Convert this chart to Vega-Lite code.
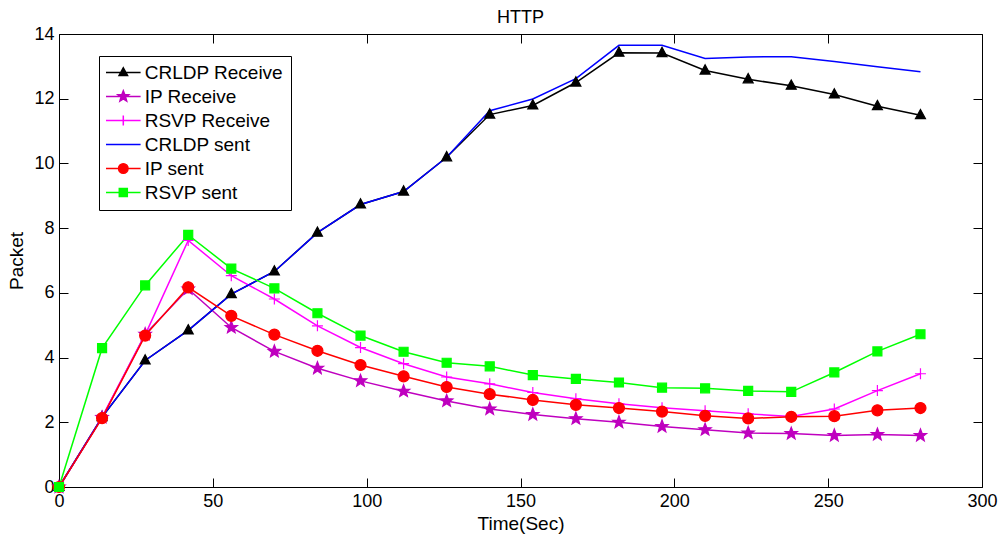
{
  "$schema": "https://vega.github.io/schema/vega-lite/v6.json",
  "width": 923,
  "height": 453,
  "autosize": {"type": "none"},
  "padding": {"left": 59, "top": 34, "right": 17, "bottom": 51},
  "background": "white",
  "title": {"text": "HTTP", "font": "Liberation Sans", "fontSize": 18, "fontWeight": "normal", "color": "black", "offset": -2},
  "config": {
    "view": {"stroke": null},
    "axis": {
      "grid": false, "domainColor": "black", "tickColor": "black", "domainWidth": 1, "tickWidth": 1,
      "tickSize": -9, "labelPadding": 14, "labelFlush": false, "labelOverlap": false,
      "labelFont": "Liberation Sans", "labelFontSize": 18, "labelColor": "black",
      "titleFont": "Liberation Sans", "titleFontSize": 19, "titleFontWeight": "normal", "titleColor": "black"
    },
    "legend": {
      "padding": 7, "rowPadding": 4,
      "strokeColor": "black", "fillColor": "white", "cornerRadius": 0,
      "labelFont": "Liberation Sans", "labelFontSize": 19, "labelColor": "black", "labelLimit": 300,
      "symbolSize": 100, "symbolStrokeWidth": 1.5, "symbolOpacity": 1, "symbolOffset": 7.8, "labelOffset": 11.9
    }
  },
  "data": {"values": [
    {"series": "CRLDP Receive", "t": 0, "v": 0}, {"series": "CRLDP Receive", "t": 14, "v": 2.16}, {"series": "CRLDP Receive", "t": 28, "v": 3.91}, {"series": "CRLDP Receive", "t": 42, "v": 4.84}, {"series": "CRLDP Receive", "t": 56, "v": 5.96}, {"series": "CRLDP Receive", "t": 70, "v": 6.66}, {"series": "CRLDP Receive", "t": 84, "v": 7.86}, {"series": "CRLDP Receive", "t": 98, "v": 8.73}, {"series": "CRLDP Receive", "t": 112, "v": 9.13}, {"series": "CRLDP Receive", "t": 126, "v": 10.19}, {"series": "CRLDP Receive", "t": 140, "v": 11.51}, {"series": "CRLDP Receive", "t": 154, "v": 11.79}, {"series": "CRLDP Receive", "t": 168, "v": 12.5}, {"series": "CRLDP Receive", "t": 182, "v": 13.42}, {"series": "CRLDP Receive", "t": 196, "v": 13.41}, {"series": "CRLDP Receive", "t": 210, "v": 12.87}, {"series": "CRLDP Receive", "t": 224, "v": 12.6}, {"series": "CRLDP Receive", "t": 238, "v": 12.4}, {"series": "CRLDP Receive", "t": 252, "v": 12.13}, {"series": "CRLDP Receive", "t": 266, "v": 11.77}, {"series": "CRLDP Receive", "t": 280, "v": 11.49},
    {"series": "IP Receive", "t": 0, "v": 0}, {"series": "IP Receive", "t": 14, "v": 2.15}, {"series": "IP Receive", "t": 28, "v": 4.72}, {"series": "IP Receive", "t": 42, "v": 6.12}, {"series": "IP Receive", "t": 56, "v": 4.93}, {"series": "IP Receive", "t": 70, "v": 4.19}, {"series": "IP Receive", "t": 84, "v": 3.67}, {"series": "IP Receive", "t": 98, "v": 3.28}, {"series": "IP Receive", "t": 112, "v": 2.96}, {"series": "IP Receive", "t": 126, "v": 2.66}, {"series": "IP Receive", "t": 140, "v": 2.41}, {"series": "IP Receive", "t": 154, "v": 2.24}, {"series": "IP Receive", "t": 168, "v": 2.11}, {"series": "IP Receive", "t": 182, "v": 2.0}, {"series": "IP Receive", "t": 196, "v": 1.87}, {"series": "IP Receive", "t": 210, "v": 1.77}, {"series": "IP Receive", "t": 224, "v": 1.67}, {"series": "IP Receive", "t": 238, "v": 1.65}, {"series": "IP Receive", "t": 252, "v": 1.59}, {"series": "IP Receive", "t": 266, "v": 1.62}, {"series": "IP Receive", "t": 280, "v": 1.59},
    {"series": "RSVP Receive", "t": 0, "v": 0}, {"series": "RSVP Receive", "t": 14, "v": 2.15}, {"series": "RSVP Receive", "t": 28, "v": 4.7}, {"series": "RSVP Receive", "t": 42, "v": 7.62}, {"series": "RSVP Receive", "t": 56, "v": 6.53}, {"series": "RSVP Receive", "t": 70, "v": 5.81}, {"series": "RSVP Receive", "t": 84, "v": 4.98}, {"series": "RSVP Receive", "t": 98, "v": 4.31}, {"series": "RSVP Receive", "t": 112, "v": 3.81}, {"series": "RSVP Receive", "t": 126, "v": 3.4}, {"series": "RSVP Receive", "t": 140, "v": 3.19}, {"series": "RSVP Receive", "t": 154, "v": 2.92}, {"series": "RSVP Receive", "t": 168, "v": 2.73}, {"series": "RSVP Receive", "t": 182, "v": 2.57}, {"series": "RSVP Receive", "t": 196, "v": 2.45}, {"series": "RSVP Receive", "t": 210, "v": 2.36}, {"series": "RSVP Receive", "t": 224, "v": 2.26}, {"series": "RSVP Receive", "t": 238, "v": 2.18}, {"series": "RSVP Receive", "t": 252, "v": 2.41}, {"series": "RSVP Receive", "t": 266, "v": 2.98}, {"series": "RSVP Receive", "t": 280, "v": 3.5},
    {"series": "CRLDP sent", "t": 0, "v": 0}, {"series": "CRLDP sent", "t": 14, "v": 2.16}, {"series": "CRLDP sent", "t": 28, "v": 3.91}, {"series": "CRLDP sent", "t": 42, "v": 4.84}, {"series": "CRLDP sent", "t": 56, "v": 5.96}, {"series": "CRLDP sent", "t": 70, "v": 6.66}, {"series": "CRLDP sent", "t": 84, "v": 7.86}, {"series": "CRLDP sent", "t": 98, "v": 8.73}, {"series": "CRLDP sent", "t": 112, "v": 9.13}, {"series": "CRLDP sent", "t": 126, "v": 10.19}, {"series": "CRLDP sent", "t": 140, "v": 11.63}, {"series": "CRLDP sent", "t": 154, "v": 11.99}, {"series": "CRLDP sent", "t": 168, "v": 12.62}, {"series": "CRLDP sent", "t": 182, "v": 13.65}, {"series": "CRLDP sent", "t": 196, "v": 13.65}, {"series": "CRLDP sent", "t": 210, "v": 13.24}, {"series": "CRLDP sent", "t": 224, "v": 13.29}, {"series": "CRLDP sent", "t": 238, "v": 13.3}, {"series": "CRLDP sent", "t": 252, "v": 13.15}, {"series": "CRLDP sent", "t": 266, "v": 12.99}, {"series": "CRLDP sent", "t": 280, "v": 12.83},
    {"series": "IP sent", "t": 0, "v": 0}, {"series": "IP sent", "t": 14, "v": 2.13}, {"series": "IP sent", "t": 28, "v": 4.68}, {"series": "IP sent", "t": 42, "v": 6.17}, {"series": "IP sent", "t": 56, "v": 5.29}, {"series": "IP sent", "t": 70, "v": 4.71}, {"series": "IP sent", "t": 84, "v": 4.21}, {"series": "IP sent", "t": 98, "v": 3.77}, {"series": "IP sent", "t": 112, "v": 3.42}, {"series": "IP sent", "t": 126, "v": 3.09}, {"series": "IP sent", "t": 140, "v": 2.87}, {"series": "IP sent", "t": 154, "v": 2.69}, {"series": "IP sent", "t": 168, "v": 2.54}, {"series": "IP sent", "t": 182, "v": 2.44}, {"series": "IP sent", "t": 196, "v": 2.33}, {"series": "IP sent", "t": 210, "v": 2.2}, {"series": "IP sent", "t": 224, "v": 2.12}, {"series": "IP sent", "t": 238, "v": 2.17}, {"series": "IP sent", "t": 252, "v": 2.19}, {"series": "IP sent", "t": 266, "v": 2.37}, {"series": "IP sent", "t": 280, "v": 2.44},
    {"series": "RSVP sent", "t": 0, "v": 0}, {"series": "RSVP sent", "t": 14, "v": 4.29}, {"series": "RSVP sent", "t": 28, "v": 6.23}, {"series": "RSVP sent", "t": 42, "v": 7.79}, {"series": "RSVP sent", "t": 56, "v": 6.75}, {"series": "RSVP sent", "t": 70, "v": 6.14}, {"series": "RSVP sent", "t": 84, "v": 5.37}, {"series": "RSVP sent", "t": 98, "v": 4.68}, {"series": "RSVP sent", "t": 112, "v": 4.18}, {"series": "RSVP sent", "t": 126, "v": 3.84}, {"series": "RSVP sent", "t": 140, "v": 3.73}, {"series": "RSVP sent", "t": 154, "v": 3.46}, {"series": "RSVP sent", "t": 168, "v": 3.34}, {"series": "RSVP sent", "t": 182, "v": 3.23}, {"series": "RSVP sent", "t": 196, "v": 3.07}, {"series": "RSVP sent", "t": 210, "v": 3.05}, {"series": "RSVP sent", "t": 224, "v": 2.97}, {"series": "RSVP sent", "t": 238, "v": 2.94}, {"series": "RSVP sent", "t": 252, "v": 3.54}, {"series": "RSVP sent", "t": 266, "v": 4.19}, {"series": "RSVP sent", "t": 280, "v": 4.72}
  ]},
  "resolve": {
    "axis": {"x": "independent", "y": "independent"},
    "scale": {"shape": "independent"},
    "legend": {"color": "independent", "shape": "independent", "stroke": "independent"}
  },
  "layer": [
    {
      "mark": {"type": "line", "strokeWidth": 1.5},
      "encoding": {
        "x": {"field": "t", "type": "quantitative", "scale": {"domain": [0, 300], "nice": false},
              "axis": {"orient": "bottom", "values": [0, 50, 100, 150, 200, 250, 300], "title": "Time(Sec)", "titlePadding": 4}},
        "y": {"field": "v", "type": "quantitative", "scale": {"domain": [0, 14], "nice": false},
              "axis": {"orient": "left", "values": [0, 2, 4, 6, 8, 10, 12, 14], "title": "Packet", "titlePadding": 7}},
        "color": {"field": "series", "type": "nominal", "legend": null,
                  "scale": {"domain": ["CRLDP Receive", "IP Receive", "RSVP Receive", "CRLDP sent", "IP sent", "RSVP sent"],
                            "range": ["#000000", "#bf00bf", "#ff00ff", "#0000ff", "#ff0000", "#00ff00"]}}
      }
    },
    {
      "mark": {"type": "point", "filled": true, "opacity": 1, "size": 100, "strokeWidth": 1.2},
      "encoding": {
        "x": {"field": "t", "type": "quantitative",
              "axis": {"orient": "top", "values": [0, 50, 100, 150, 200, 250, 300], "labels": false, "title": null}},
        "y": {"field": "v", "type": "quantitative",
              "axis": {"orient": "right", "values": [0, 2, 4, 6, 8, 10, 12, 14], "labels": false, "title": null}},
        "color": {"field": "series", "type": "nominal", "legend": null},
        "stroke": {"field": "series", "type": "nominal", "legend": null,
                   "scale": {"domain": ["CRLDP Receive", "IP Receive", "RSVP Receive", "CRLDP sent", "IP sent", "RSVP sent"],
                             "range": ["#000000", "#bf00bf", "#ff00ff", "#0000ff", "#ff0000", "#00ff00"]}},
        "shape": {"field": "series", "type": "nominal", "legend": null,
                  "scale": {"domain": ["CRLDP Receive", "IP Receive", "RSVP Receive", "CRLDP sent", "IP sent", "RSVP sent"],
                            "range": [
                              "M0,-1.15L1,0.7L-1,0.7Z",
                              "M0,-1.3L0.323,-0.445L1.236,-0.402L0.523,0.17L0.764,1.052L0,0.55L-0.764,1.052L-0.523,0.17L-1.236,-0.402L-0.323,-0.445Z",
                              "M-1.1,0H1.1M0,-1.1V1.1",
                              "M0,0",
                              "M1.1,0A1.1,1.1 0 1,1 -1.1,0A1.1,1.1 0 1,1 1.1,0Z",
                              "M-0.9,-0.9H0.9V0.9H-0.9Z"
                            ]}}
      }
    },
    {
      "mark": {"type": "point", "filled": true, "opacity": 0, "size": 100, "strokeWidth": 1.5},
      "encoding": {
        "x": {"field": "t", "type": "quantitative", "axis": null},
        "y": {"field": "v", "type": "quantitative", "axis": null},
        "color": {"field": "series", "type": "nominal",
                  "legend": {"title": null, "orient": "none", "legendX": 40, "legendY": 22}},
        "stroke": {"field": "series", "type": "nominal",
                   "legend": {"title": null, "orient": "none", "legendX": 40, "legendY": 22}},
        "shape": {"field": "series", "type": "nominal",
                  "legend": {"title": null, "orient": "none", "legendX": 40, "legendY": 22},
                  "scale": {"domain": ["CRLDP Receive", "IP Receive", "RSVP Receive", "CRLDP sent", "IP sent", "RSVP sent"],
                            "range": [
                              "M-3.46,0H3.46M0,-0.95L0.85,0.6L-0.85,0.6Z",
                              "M-3.46,0H3.46M0,-1.15L0.286,-0.394L1.094,-0.356L0.463,0.15L0.676,0.93L0,0.487L-0.676,0.93L-0.463,0.15L-1.094,-0.356L-0.286,-0.394Z",
                              "M-3.46,0H3.46M0,-1V1",
                              "M-3.46,0H3.46",
                              "M-3.46,0H3.46M0.95,0A0.95,0.95 0 1,1 -0.95,0A0.95,0.95 0 1,1 0.95,0Z",
                              "M-3.46,0H3.46M-0.8,-0.8H0.8V0.8H-0.8Z"
                            ]}}
      }
    }
  ]
}
